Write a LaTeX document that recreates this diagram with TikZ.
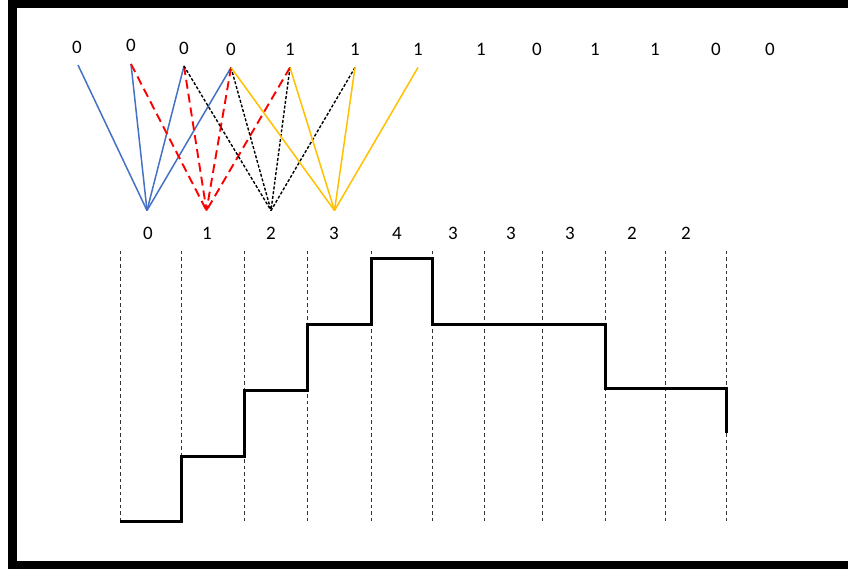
\documentclass[tikz,border=0pt]{standalone}
\usepackage{fontspec}
\setmainfont{Carlito}
\definecolor{lblue}{HTML}{4472C4}
\definecolor{lyellow}{HTML}{FFC000}
\definecolor{lred}{HTML}{FF0000}
\begin{document}
\begin{tikzpicture}[x=1pt,y=-1pt,
  lbl/.style={inner sep=0pt,font=\fontsize{19}{22}\selectfont},
  blueln/.style={lblue,line width=1.5pt},
  redln/.style={lred,line width=1.9pt,dash pattern=on 9pt off 5pt},
  blkln/.style={black,line width=1.4pt,dash pattern=on 3pt off 1.8pt},
  yelln/.style={lyellow,line width=1.5pt},
  grid/.style={black!80,line width=0.6pt,dash pattern=on 3.5pt off 3pt},
  stepln/.style={black,line width=3pt,line cap=butt,line join=miter}]
\useasboundingbox (0,0) rectangle (848,569);
\begin{scope}
\clip (0,0) rectangle (848,569);
\draw[line width=9pt] (12.5,3.5) rectangle (870,565.5);
\end{scope}
% top labels
\foreach \n/\x/\y/\t in {1/77/47/0,2/131/45/0,3/184/48/0,4/231/49/0,5/290/49/1,6/355/49/1,7/418/49/1,8/481/49/1,9/537/49/0,10/595/49/1,11/655/49/1,12/716/49/0,13/770/49/0}
  \node[lbl] (t\n) at (\x,\y) {\t};
% top points
\foreach \n/\x/\y in {1/78/65,2/131/64,3/184/66,4/231/67.5,5/290/67.5,6/355/67.5,7/418/67.5}
  \coordinate (p\n) at (\x,\y);
% bottom vertices
\foreach \n/\x in {0/147,1/206.5,2/271,3/334.5}
  \coordinate (b\n) at (\x,210.5);
% connectors
\foreach \i in {1,2,3,4} \draw[blueln] (p\i) -- (b0);
\foreach \i in {2,3,4,5} \draw[redln] (p\i) -- (b1);
\foreach \i in {3,4,5,6} \draw[blkln] (p\i) -- (b2);
\foreach \i in {4,5,6,7} \draw[yelln] (p\i) -- (b3);
% bottom labels
\foreach \n/\x/\t in {1/148/0,2/207/1,3/271/2,4/334/3,5/397/4,6/453/3,7/511/3,8/570/3,9/632/2,10/686/2}
  \node[lbl] (l\n) at (\x,233) {\t};
% grid lines
\foreach \n/\x in {1/120,2/181,3/244,4/307,5/371,6/432.5,7/484,8/542.5,9/605,10/665,11/726}{
  \coordinate (g\n a) at (\x,251);
  \coordinate (g\n b) at (\x,523);
  \draw[grid] (g\n a) -- (g\n b);
}
% step function
\coordinate (s0) at (120,521);
\draw[stepln] (s0) -- (181,521) -- (181,456) -- (244,456) -- (244,390) -- (307,390)
  -- (307,324) -- (371,324) -- (371,259) -- (432,259) -- (432,324) -- (605,324)
  -- (605,388) -- (726,388) -- (726,433);
\end{tikzpicture}
\end{document}
